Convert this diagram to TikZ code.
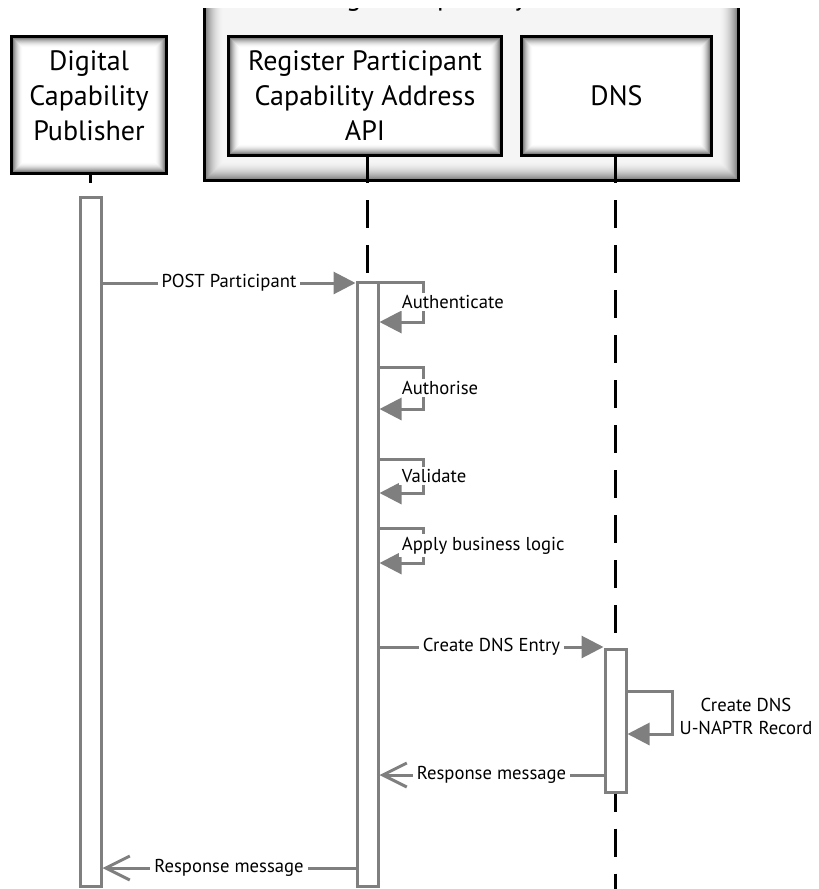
\documentclass[tikz,border=0pt]{standalone}
\usepackage{fontspec}
\setmainfont{PT Sans}
\usepackage{tikz}
\usetikzlibrary{arrows.meta,calc,positioning}

\definecolor{msggray}{HTML}{7F7F7F}

% inner shadow of a header box: node, steps, edge darkness, inner darkness
\newcommand\vignette[4]{%
  \foreach \i in {0,...,#2}{
    \pgfmathsetmacro\v{#4+(#3-#4)*(1-\i/#2)^2}
    \draw[black!\v, line width=1pt] ($(#1.north west)+(\i,\i)$) rectangle ($(#1.south east)-(\i,\i)$);
  }
  \draw[black, line width=2.25pt] (#1.north west) rectangle (#1.south east);
}

\tikzset{
  headbox/.style={rectangle, fill=white, inner sep=0pt},
  headtext/.style={align=center, inner sep=0pt, font=\fontsize{21}{26.25}\selectfont},
  actbox/.style={rectangle, draw=msggray, line width=2.25pt, fill=white, minimum width=15.75pt, inner sep=0pt},
  lifeline/.style={black, line width=2.25pt, dash pattern=on 21pt off 12.75pt},
  msg/.style={msggray, line width=2.25pt},
  sync/.style={msg, -{Triangle[length=16.5pt,width=16.5pt]}},
  reply/.style={msg, -{Straight Barb[length=18pt,width=18pt]}},
  msglabel/.style={fill=white, inner sep=3pt, text=black, font=\fontsize{14}{17}\selectfont}
}

\begin{document}
\begin{tikzpicture}[x=0.75pt,y=-0.75pt]
\useasboundingbox (0,0) rectangle (818,889);

% container, cut at the top
\begin{scope}
\clip (0,8) rectangle (818,889);
\node[headbox, fill=black!4, minimum width=399.75pt, minimum height=157.5pt] (dcl) at (471.5,75) {};
\vignette{dcl}{20}{55}{4}
\node[headtext, anchor=base] (dcltitle) at (471.5,5) {Digital Capability Locator};
\end{scope}

% participants
\node[headbox, minimum width=115.5pt, minimum height=102pt] (pub) at (89,105) {};
\vignette{pub}{12}{70}{0}
\node[headtext] (pubtext) at (89,96) {Digital\\Capability\\Publisher};

\node[headbox, minimum width=204pt, minimum height=88.5pt] (api) at (365,96) {};
\vignette{api}{12}{70}{0}
\node[headtext] (apitext) at (api.center) {Register Participant\\Capability Address\\API};

\node[headbox, minimum width=141.75pt, minimum height=88.5pt] (dns) at (616.5,96) {};
\vignette{dns}{12}{70}{0}
\node[headtext] (dnstext) at (dns.center) {DNS};

% activations
\node[actbox, minimum height=516.75pt] (actPub) at (90.5,541.5) {};
\node[actbox, minimum height=453pt] (actAPI) at (367.5,584) {};
\node[actbox, minimum height=107.25pt] (actDNS) at (615.5,720.5) {};
\coordinate (dnsEnd) at (615.5,889);

% lifelines
\draw[lifeline, dash phase=13.5pt] (pub.south -| actPub.north) -- (actPub.north);
\draw[lifeline] (api.south -| actAPI.north) -- (actAPI.north);
\draw[lifeline] (dns.south -| actDNS.north) -- (actDNS.north);
\draw[lifeline, dash phase=7.5pt] (actDNS.south) -- (dnsEnd);

% messages
\draw[sync] (actPub.east |- 0,283) -- node[msglabel] (post) {POST Participant} (actAPI.west |- 0,283);

\foreach \ya/\yb/\txt in {282/322/Authenticate, 367/409/Authorise, 459/493/Validate, 528/563/Apply business logic}{
  \draw[sync] (actAPI.east |- 0,\ya) -- (423,\ya) -- (423,\yb) -- (actAPI.east |- 0,\yb);
  \node[msglabel, anchor=west, inner sep=2pt] at (399,{(\ya+\yb)/2}) {\txt};
}

\draw[sync] (actAPI.east |- 0,647) -- node[msglabel] (entry) {Create DNS Entry} (actDNS.west |- 0,647);

\draw[sync] (actDNS.east |- 0,691) -- (672,691) -- (672,734) -- (actDNS.east |- 0,734);
\node[align=center, text=black, font=\fontsize{14}{17.25}\selectfont] (naptr) at (746,716) {Create DNS\\U-NAPTR Record};

\draw[reply] (actDNS.west |- 0,775) -- node[msglabel] (resp1) {Response message} (actAPI.east |- 0,775);
\draw[reply] (actAPI.west |- 0,868) -- node[msglabel] (resp2) {Response message} (actPub.east |- 0,868);
\end{tikzpicture}
\end{document}
